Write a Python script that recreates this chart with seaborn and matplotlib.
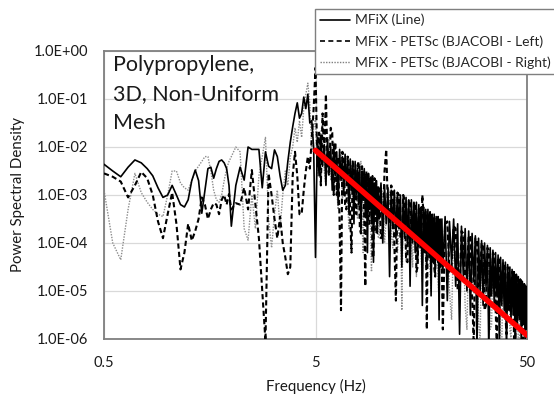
import numpy as np
import pandas as pd
import matplotlib
matplotlib.use("Agg")
import matplotlib.pyplot as plt
import seaborn as sns
from matplotlib.ticker import FixedLocator, FixedFormatter, NullLocator
from matplotlib.lines import Line2D

# ---------------- data ----------------
freq = [
    0.50, 0.55, 0.60, 0.65, 0.70, 0.75, 0.80, 0.85, 0.90, 0.95,
    1.00, 1.05, 1.10, 1.15, 1.20, 1.25, 1.30, 1.35, 1.40, 1.45,
    1.50, 1.55, 1.60, 1.65, 1.70, 1.75, 1.80, 1.85, 1.90, 1.95,
    2.0, 2.1, 2.2, 2.3, 2.4, 2.5, 2.6, 2.7, 2.8, 2.9,
    3.0, 3.1, 3.2, 3.3, 3.4, 3.5, 3.6, 3.7, 3.8, 3.9,
    4.0, 4.1, 4.2, 4.3, 4.4, 4.5, 4.6, 4.7, 4.8, 4.9,
    5.0, 5.1, 5.2, 5.3, 5.4, 5.5, 5.6, 5.7, 5.8, 5.9,
    6.0, 6.1, 6.2, 6.3, 6.4, 6.5, 6.6, 6.7, 6.8, 6.9,
    7.0, 7.1, 7.2, 7.3, 7.4, 7.5, 7.6, 7.7, 7.8, 7.9,
    8.0, 8.1, 8.2, 8.3, 8.4, 8.5, 8.6, 8.7, 8.8, 8.9,
    9.0, 9.1, 9.2, 9.3, 9.4, 9.5, 9.6, 9.7, 9.8, 9.9,
    10.0, 10.2, 10.4, 10.6, 10.8, 11.0, 11.2, 11.4, 11.6, 11.8,
    12.0, 12.2, 12.4, 12.6, 12.8, 13.0, 13.2, 13.4, 13.6, 13.8,
    14.0, 14.2, 14.4, 14.6, 14.8, 15.0, 15.2, 15.4, 15.6, 15.8,
    16.0, 16.2, 16.4, 16.6, 16.8, 17.0, 17.2, 17.4, 17.6, 17.8,
    18.0, 18.2, 18.4, 18.6, 18.8, 19.0, 19.2, 19.4, 19.6, 19.8,
    20.0, 20.5, 21.0, 21.5, 22.0, 22.5, 23.0, 23.5, 24.0, 24.5,
    25.0, 25.5, 26.0, 26.5, 27.0, 27.5, 28.0, 28.5, 29.0, 29.5,
    30.0, 30.5, 31.0, 31.5, 32.0, 32.5, 33.0, 33.5, 34.0, 34.5,
    35.0, 35.5, 36.0, 36.5, 37.0, 37.5, 38.0, 38.5, 39.0, 39.5,
    40.0, 40.5, 41.0, 41.5, 42.0, 42.5, 43.0, 43.5, 44.0, 44.5,
    45.0, 45.5, 46.0, 46.5, 47.0, 47.5, 48.0, 48.5, 49.0, 49.5,
    50.0,
]

# log10 of the power spectral density, one value per frequency above
log_psd_line = [
    -2.36, -2.50, -2.62, -2.42, -2.27, -2.33, -2.45, -2.60, -2.85, -3.05,
    -3.00, -2.80, -3.00, -3.20, -3.25, -3.10, -2.70, -2.48, -2.70, -3.38,
    -2.90, -2.45, -2.42, -2.65, -2.45, -2.30, -2.27, -2.33, -2.45, -2.80,
    -3.65, -2.80, -2.42, -2.69, -2.00, -2.05, -2.05, -2.05, -2.85, -2.10,
    -2.40, -2.45, -2.06, -2.20, -2.60, -2.90, -2.80, -2.30, -1.90, -1.58,
    -1.30, -1.08, -1.40, -1.30, -0.96, -1.20, -0.90, -1.50, -1.45, -2.00,
    -4.30, -1.80, -2.60, -1.75, -2.40, -1.95, -2.80, -1.85, -2.50, -2.00,
    -2.90, -1.95, -2.60, -2.10, -3.20, -2.05, -2.70, -2.20, -3.00, -2.15,
    -2.80, -2.30, -3.40, -2.25, -2.90, -2.35, -3.60, -2.30, -3.00, -2.45,
    -3.20, -2.40, -3.80, -2.50, -3.10, -2.45, -3.40, -2.60, -4.20, -2.55,
    -3.30, -2.65, -3.60, -2.60, -4.40, -2.75, -3.40, -2.70, -3.80, -2.85,
    -3.50, -2.75, -4.00, -2.80, -3.60, -2.85, -4.70, -2.90, -3.70, -2.90,
    -3.90, -2.95, -3.70, -3.00, -4.50, -3.00, -3.90, -3.05, -4.00, -3.10,
    -4.90, -3.10, -4.00, -3.15, -4.20, -3.15, -4.40, -3.20, -4.10, -3.25,
    -5.30, -3.25, -4.20, -3.30, -4.50, -3.30, -4.30, -3.35, -5.10, -3.40,
    -4.40, -3.40, -4.60, -3.45, -4.30, -3.45, -5.60, -3.50, -4.50, -3.50,
    -4.60, -3.45, -5.20, -3.55, -4.40, -3.50, -4.90, -3.60, -5.90, -3.65,
    -4.70, -3.70, -5.00, -3.75, -5.50, -3.80, -4.80, -3.85, -6.20, -3.90,
    -5.00, -3.95, -5.30, -4.00, -4.90, -4.05, -6.30, -4.10, -5.10, -4.15,
    -5.30, -4.20, -5.10, -4.25, -6.10, -4.30, -5.30, -4.35, -5.40, -4.40,
    -6.30, -4.45, -5.40, -4.50, -5.60, -4.55, -5.50, -4.60, -6.40, -4.65,
    -5.70, -4.70, -5.60, -4.75, -6.20, -4.80, -5.70, -4.85, -6.10, -4.90,
    -5.80,
]

log_psd_left = [
    -2.55, -2.62, -2.72, -3.05, -2.80, -2.52, -2.65, -3.00, -3.55, -3.90,
    -3.40, -2.95, -3.60, -4.55, -4.20, -3.60, -3.95, -3.75, -3.50, -3.05,
    -3.20, -3.50, -3.30, -3.17, -3.20, -3.40, -3.10, -3.00, -3.20, -2.98,
    -3.30, -3.17, -3.20, -2.85, -3.30, -2.48, -3.20, -3.90, -5.00, -6.05,
    -2.55, -3.00, -3.50, -3.90, -3.45, -4.00, -4.30, -4.65, -4.50, -2.60,
    -2.10, -2.60, -3.40, -3.40, -2.90, -2.50, -2.20, -2.45, -1.80, -1.20,
    -0.35, -2.40, -1.70, -2.80, -1.30, -2.20, -0.90, -2.40, -2.60, -1.60,
    -1.70, -3.00, -1.90, -3.00, -2.20, -3.60, -5.40, -2.10, -2.30, -3.20,
    -3.30, -2.20, -2.40, -3.50, -4.20, -2.30, -2.50, -3.30, -3.40, -2.40,
    -2.30, -3.70, -3.80, -2.40, -2.60, -3.50, -4.90, -2.50, -2.70, -3.60,
    -3.60, -2.60, -2.75, -4.30, -4.30, -2.65, -2.80, -3.80, -3.50, -2.80,
    -2.90, -3.90, -3.80, -2.50, -2.05, -3.30, -3.60, -2.80, -2.90, -4.10,
    -5.20, -2.95, -3.00, -3.90, -3.90, -3.00, -3.10, -4.30, -4.40, -3.10,
    -3.15, -3.80, -3.90, -3.15, -3.20, -4.60, -4.50, -3.25, -3.30, -4.00,
    -3.00, -3.40, -4.10, -3.35, -5.80, -3.40, -3.40, -4.30, -4.20, -3.45,
    -3.45, -4.50, -4.70, -3.50, -3.50, -4.40, -4.30, -3.55, -3.55, -4.60,
    -5.80, -3.60, -3.55, -4.60, -4.50, -3.65, -3.70, -5.00, -5.00, -3.75,
    -3.80, -4.70, -4.60, -3.85, -3.85, -5.10, -6.10, -3.90, -3.95, -4.90,
    -4.80, -4.00, -4.05, -5.40, -5.30, -4.10, -4.15, -5.10, -5.00, -4.20,
    -4.25, -5.30, -6.20, -4.30, -4.35, -5.20, -5.10, -4.40, -4.45, -5.50,
    -5.90, -4.50, -4.55, -5.40, -5.30, -4.60, -4.60, -6.30, -6.20, -4.65,
    -4.70, -5.50, -5.40, -4.75, -4.80, -6.10, -6.00, -4.85, -4.90, -5.60,
    -5.60,
]

log_psd_right = [
    -2.90, -4.00, -4.35, -3.30, -2.55, -2.95, -3.15, -3.30, -3.40, -3.45,
    -3.00, -2.50, -2.50, -2.75, -2.85, -2.90, -2.70, -2.50, -2.40, -2.30,
    -2.20, -2.20, -2.50, -2.90, -3.10, -3.15, -3.00, -2.70, -2.45, -2.30,
    -2.20, -2.00, -2.10, -3.70, -3.94, -3.00, -3.70, -2.60, -2.20, -1.80,
    -3.50, -4.10, -3.40, -2.90, -3.70, -3.00, -2.50, -2.80, -2.20, -2.00,
    -1.60, -1.90, -1.45, -1.80, -1.20, -0.90, -0.67, -1.10, -2.10, -1.60,
    -1.40, -2.60, -2.30, -1.70, -1.50, -2.50, -2.80, -1.90, -1.80, -2.70,
    -2.40, -1.90, -2.00, -2.90, -3.30, -2.10, -2.10, -3.10, -2.80, -2.20,
    -2.20, -3.20, -3.70, -2.30, -2.40, -3.30, -3.00, -2.35, -2.35, -3.50,
    -2.90, -2.40, -2.30, -3.60, -4.20, -2.50, -2.60, -3.40, -3.20, -2.60,
    -2.70, -3.70, -4.60, -2.70, -2.80, -3.60, -3.40, -2.75, -2.85, -3.90,
    -3.90, -2.80, -3.00, -4.00, -3.50, -2.90, -2.90, -3.80, -4.10, -3.00,
    -3.10, -4.20, -3.70, -3.05, -5.40, -3.10, -3.20, -4.40, -4.00, -3.15,
    -3.25, -3.90, -4.50, -3.20, -3.30, -4.70, -3.90, -3.25, -3.35, -4.30,
    -4.80, -3.35, -3.40, -4.50, -4.00, -3.40, -3.50, -4.60, -5.00, -3.45,
    -3.55, -4.30, -4.20, -3.50, -3.60, -4.80, -5.20, -3.55, -3.70, -4.40,
    -4.30, -3.60, -3.65, -5.00, -5.60, -3.70, -3.75, -4.60, -4.60, -3.80,
    -3.85, -5.30, -5.80, -3.90, -3.95, -4.90, -5.00, -4.00, -4.00, -5.60,
    -6.10, -4.05, -4.10, -5.00, -5.10, -4.15, -4.20, -5.80, -5.70, -4.25,
    -4.30, -5.20, -5.30, -4.35, -4.40, -6.20, -6.10, -4.45, -4.50, -5.40,
    -5.50, -4.55, -4.60, -5.80, -6.00, -4.65, -4.65, -5.50, -5.40, -4.70,
    -4.75, -6.20, -6.10, -4.80, -4.85, -5.70, -5.60, -4.90, -4.95, -5.80,
    -5.80,
]

# power-law fit shown in red (end points)
fit_freq = [5.0, 50.0]
fit_psd = [8.5e-3, 1.2e-6]

series_names = ["MFiX (Line)", "MFiX - PETSc (BJACOBI - Left)", "MFiX - PETSc (BJACOBI - Right)"]
y_ticks = [1e0, 1e-1, 1e-2, 1e-3, 1e-4, 1e-5, 1e-6]
y_tick_labels = ["1.0E+00", "1.0E-01", "1.0E-02", "1.0E-03", "1.0E-04", "1.0E-05", "1.0E-06"]
x_ticks = [0.5, 5, 50]
x_tick_labels = ["0.5", "5", "50"]

# ---------------- plot ----------------
sns.set_style("white")
plt.rcParams["font.family"] = ["Lato", "DejaVu Sans"]

fig = plt.figure(figsize=(5.54, 3.97), dpi=100)
ax = fig.add_axes([104 / 554, 1 - 339 / 397, (527 - 104) / 554, (339 - 51) / 397])

psd_line = [10 ** v for v in log_psd_line]
psd_left = [10 ** v for v in log_psd_left]
psd_right = [10 ** v for v in log_psd_right]

sns.lineplot(x=freq, y=psd_right, ax=ax, color="#8c8c8c", lw=1.0,
             linestyle=(0, (1, 1)), legend=False, zorder=2)
sns.lineplot(x=freq, y=psd_left, ax=ax, color="black", lw=1.5,
             linestyle=(0, (2.5, 1.5)), legend=False, zorder=3)
sns.lineplot(x=freq, y=psd_line, ax=ax, color="black", lw=1.2,
             linestyle="-", legend=False, zorder=4)
sns.lineplot(x=fit_freq, y=fit_psd, ax=ax, color="#ff0000", lw=4.0,
             legend=False, zorder=5)

ax.set_xscale("log")
ax.set_yscale("log")
ax.set_xlim(0.5, 50)
ax.set_ylim(1e-6, 1e0)

ax.xaxis.set_major_locator(FixedLocator(x_ticks))
ax.xaxis.set_major_formatter(FixedFormatter(x_tick_labels))
ax.xaxis.set_minor_locator(NullLocator())
ax.yaxis.set_major_locator(FixedLocator(y_ticks))
ax.yaxis.set_major_formatter(FixedFormatter(y_tick_labels))
ax.yaxis.set_minor_locator(NullLocator())
ax.tick_params(axis="both", length=0, labelsize=10.5, colors="#1a1a1a")
ax.tick_params(axis="y", pad=11.5)
ax.tick_params(axis="x", pad=12)

ax.grid(True, which="major", color="#d9d9d9", lw=0.9)
ax.set_axisbelow(True)
for s in ax.spines.values():
    s.set_color("#7f7f7f")
    s.set_linewidth(1.3)

ax.set_xlabel("Frequency (Hz)", fontsize=10.8, color="#1a1a1a", labelpad=7)
ax.set_ylabel("Power Spectral Density", fontsize=10.8, color="#1a1a1a", labelpad=6)

fig.text(113 / 554, 1 - 55 / 397, "Polypropylene,\n3D, Non-Uniform\nMesh",
         ha="left", va="top", fontsize=15.5, color="#1a1a1a", linespacing=1.55)

handles = [
    Line2D([], [], color="black", lw=1.2, linestyle="-"),
    Line2D([], [], color="black", lw=1.2, linestyle=(0, (3, 2))),
    Line2D([], [], color="#7f7f7f", lw=1.0, linestyle=(0, (1, 1))),
]
leg = ax.legend(handles, series_names, loc="upper left",
                bbox_to_anchor=(315 / 554, 1 - 9 / 397), bbox_transform=fig.transFigure,
                fontsize=10, frameon=True, fancybox=False, shadow=False,
                handlelength=2.2, handletextpad=0.3, borderpad=0.35,
                labelspacing=0.62, borderaxespad=0)
leg.get_frame().set_edgecolor("#7f7f7f")
leg.get_frame().set_linewidth(1.0)
leg.get_frame().set_facecolor("white")
leg.get_frame().set_alpha(1.0)
leg.set_zorder(10)

fig.savefig("out.png", dpi=100)
